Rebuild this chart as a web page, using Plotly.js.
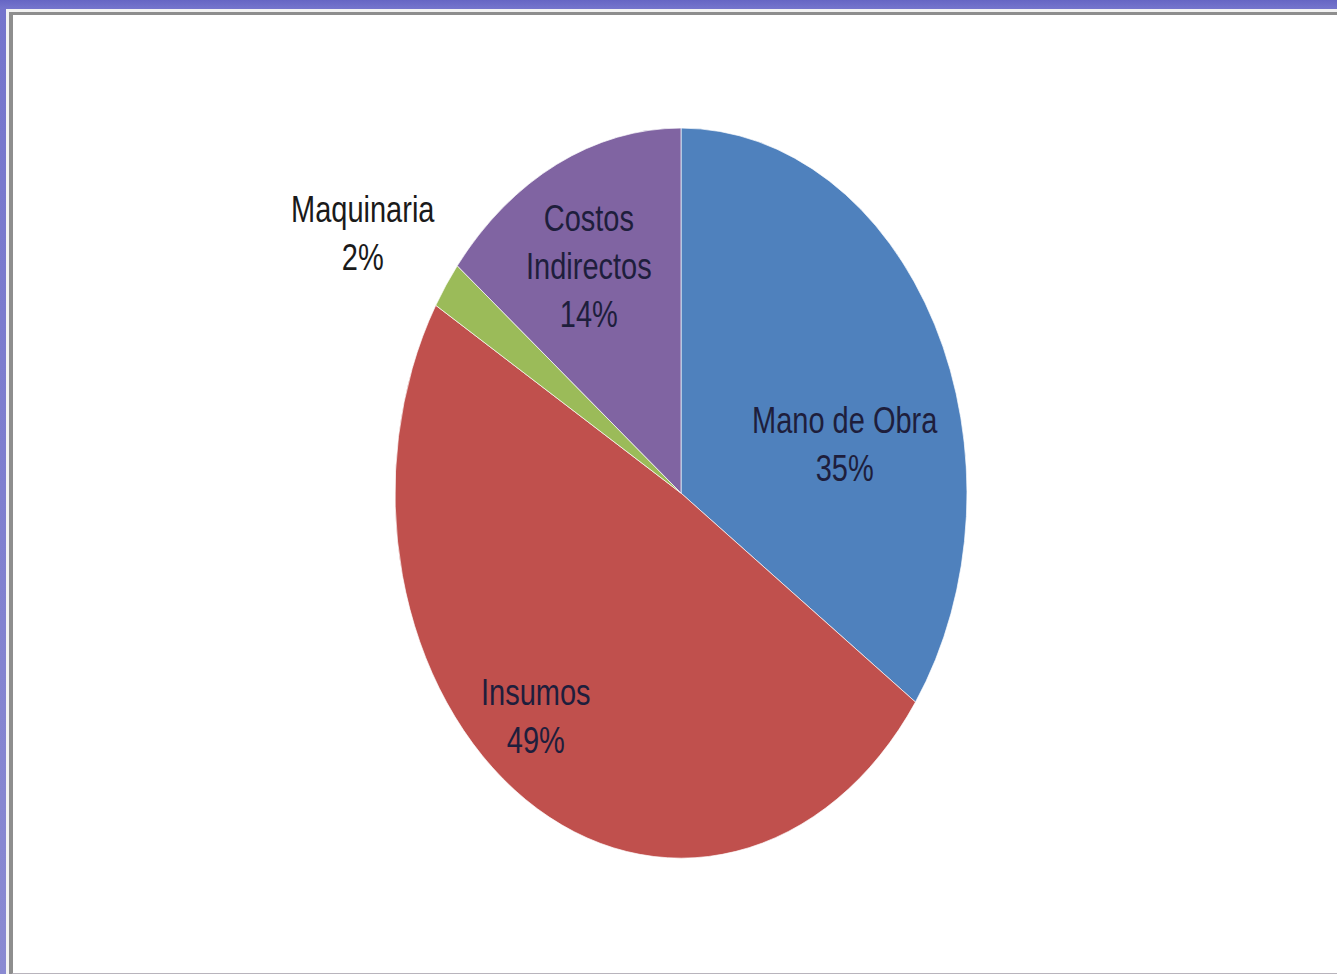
<!DOCTYPE html>
<html>
<head>
<meta charset="utf-8">
<script src="https://cdn.plot.ly/plotly-3.0.1.min.js"></script>
<style>
  html, body { margin: 0; padding: 0; width: 1337px; height: 974px; overflow: hidden; }
  body { background: linear-gradient(180deg, #6666c4 0px, #7474cc 8px, #8a8ad2 100%); position: relative; }
  #frame {
    position: absolute; left: 9px; top: 12px; width: 1340px; height: 958px;
    background: #ffffff;
    border-left: 4px solid #8e8e8e; border-top: 3px solid #8e8e8e; border-bottom: 3px solid #b8b4bc;
    box-shadow: -2px -2px 0 1px #f2f2f2;
  }
  #chart {
    position: absolute; left: 0; top: 0; width: 1337px; height: 763px;
    transform-origin: 0 0; transform: scaleY(1.2765);
  }
</style>
</head>
<body>
<div id="frame"></div>
<div id="chart"></div>
<script>
// Data (shares; labels show them rounded)
const categories = ['Mano de Obra', 'Insumos', 'Maquinaria', 'Costos Indirectos'];
const labelLines = ['Mano de Obra', 'Insumos', 'Maquinaria', 'Costos<br>Indirectos'];
const shares = [34.7, 48.9, 2.1, 14.3];

// Styles
const colors = ['#4F81BD', '#C0504D', '#9BBB59', '#8064A2'];
const labelColors = ['#1e1e3c', '#1e1e3c', '#1a1a1a', '#1e1e3c'];
// label placement relative to each slice: angle nudge (deg) from slice middle, radius fraction
const labelAngleNudge = [14.5, 6.8, -2.2, -1.5];
const labelRadius = [0.59, 0.795, 1.32, 0.70];

const W = 1337, H = 763;
const domX = [0.2954, 0.7233], domY = [0.1189, 0.8685];
const fontFamily = 'Liberation Sans, Arial, sans-serif';
const fontSize = 29;

const trace = {
  type: 'pie',
  labels: categories,
  values: shares,
  textinfo: 'none',
  sort: false,
  direction: 'clockwise',
  rotation: 0,
  marker: { colors: colors, line: { color: '#ffffff', width: 0.6 } },
  domain: { x: domX, y: domY },
  hoverinfo: 'label+percent'
};

// Build data labels from the data (angles from cumulative shares)
const total = shares.reduce((a, b) => a + b, 0);
const cx = (domX[0] + domX[1]) / 2 * W;
const cyUp = (domY[0] + domY[1]) / 2 * H;
const R = Math.min((domX[1] - domX[0]) * W, (domY[1] - domY[0]) * H) / 2;
let cum = 0;
const annotations = shares.map((v, i) => {
  const mid = (cum + v / 2) / total * 360 + labelAngleNudge[i];
  cum += v;
  const a = mid * Math.PI / 180;
  const x = cx + Math.sin(a) * R * labelRadius[i];
  const y = cyUp + Math.cos(a) * R * labelRadius[i];
  const pct = Math.round(v / total * 100) + '%';
  return {
    xref: 'paper', yref: 'paper', x: x / W, y: y / H,
    xanchor: 'center', yanchor: 'middle', align: 'center',
    showarrow: false,
    text: labelLines[i] + '<br>' + pct,
    font: { family: fontFamily, size: fontSize, color: labelColors[i] }
  };
});

const layout = {
  width: W, height: H,
  margin: { l: 0, r: 0, t: 0, b: 0 },
  showlegend: false,
  paper_bgcolor: 'rgba(0,0,0,0)',
  plot_bgcolor: 'rgba(0,0,0,0)',
  annotations: annotations
};

Plotly.newPlot('chart', [trace], layout, { displayModeBar: false, staticPlot: true });
</script>
</body>
</html>
